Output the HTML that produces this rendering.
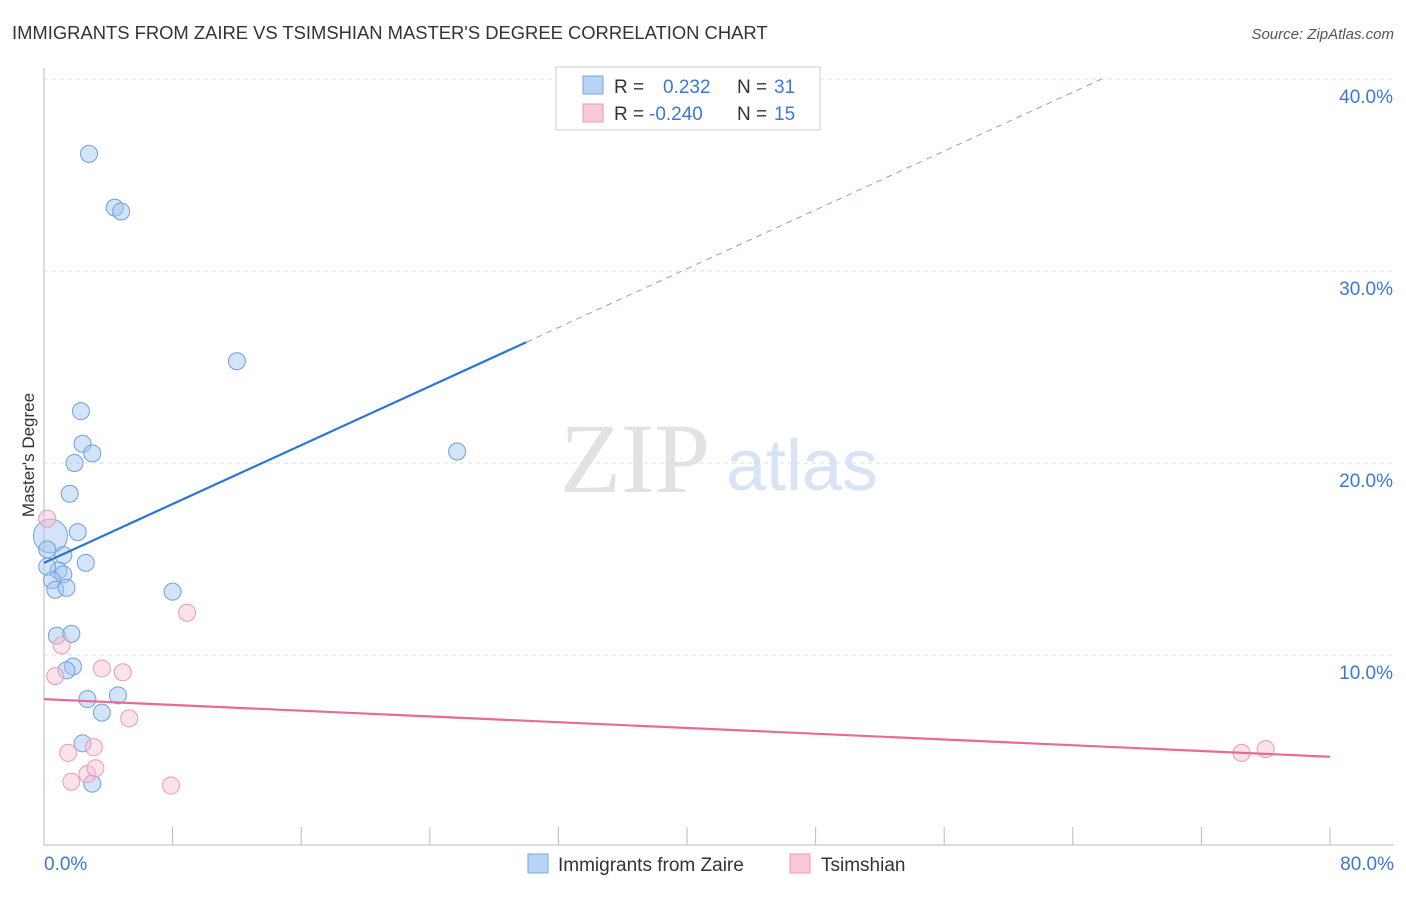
<!DOCTYPE html>
<html><head><meta charset="utf-8"><style>
body{margin:0;background:#fff;font-family:"Liberation Sans",sans-serif;}
svg text{font-family:"Liberation Sans",sans-serif;}
</style></head><body>
<svg id="chart" width="1406" height="892" viewBox="0 0 1406 892">
<text x="12" y="39" font-size="18.4" fill="#333">IMMIGRANTS FROM ZAIRE VS TSIMSHIAN MASTER'S DEGREE CORRELATION CHART</text>
<text x="1394" y="39" font-size="15" fill="#555" font-style="italic" text-anchor="end">Source: ZipAtlas.com</text>
<g>
<text x="635" y="492" font-size="100" fill="#e2e2e2" text-anchor="middle" style="font-family:'Liberation Serif',serif">ZIP</text>
<text x="802" y="490" font-size="72" fill="#d6e4f5" text-anchor="middle">atlas</text>
</g>
<g id="grid"></g>
<g id="axes"></g>
<g id="marks"></g>
<text transform="translate(34,455) rotate(-90)" font-size="17" fill="#333" text-anchor="middle">Master's Degree</text>
<g>
<rect x="556" y="67" width="264" height="63" fill="#fff" stroke="#ccc"/>
<rect x="583" y="76" width="20" height="18" fill="#b8d3f5" stroke="#7aa7e0"/>
<text x="614" y="93" font-size="19" fill="#333">R = </text><text x="663" y="93" font-size="19" fill="#3a78d6">0.232</text>
<text x="737" y="93" font-size="19" fill="#333">N = </text><text x="774" y="93" font-size="19" fill="#3a78d6">31</text>
<rect x="583" y="104" width="20" height="18" fill="#f9c9d8" stroke="#eb9ab4"/>
<text x="614" y="120" font-size="19" fill="#333">R = </text><text x="649" y="120" font-size="19" fill="#3a78d6">-0.240</text>
<text x="737" y="120" font-size="19" fill="#333">N = </text><text x="774" y="120" font-size="19" fill="#3a78d6">15</text>
</g>
<g>
<rect x="528" y="854" width="20" height="19" fill="#b8d3f5" stroke="#7aa7e0"/>
<text x="558" y="871" font-size="19" fill="#333">Immigrants from Zaire</text>
<rect x="790" y="854" width="20" height="19" fill="#f9c9d8" stroke="#eb9ab4"/>
<text x="821" y="871" font-size="19" fill="#333">Tsimshian</text>
</g>
</svg>
<script>
const xTicks=[0,8,16,24,32,40,48,56,64,72,80];
const yTicks=[10,20,30,40];
const zaireX=[2.8,4.4,4.8,12.0,2.3,2.4,3.0,1.9,25.7,1.6,2.1,0.4,0.2,1.2,2.6,0.9,1.2,0.5,0.7,1.4,8.0,0.8,1.7,1.8,1.4,2.7,4.6,3.6,2.4,3.0,0.2];
const zaireY=[36.1,33.3,33.1,25.3,22.7,21.0,20.5,20.0,20.6,18.4,16.4,16.2,15.5,15.2,14.8,14.4,14.2,13.9,13.4,13.5,13.3,11.0,11.1,9.4,9.2,7.7,7.9,7.0,5.4,3.3,14.6];
const tsimX=[0.2,1.1,0.7,3.6,4.9,8.9,5.3,1.5,3.1,1.7,2.7,3.2,7.9,74.5,76.0];
const tsimY=[17.1,10.5,8.9,9.3,9.1,12.2,6.7,4.9,5.2,3.4,3.8,4.1,3.2,4.9,5.1];
const zaireTrend=[14.8,0.383];
const tsimTrend=[7.7,-0.0375];
const NS="http://www.w3.org/2000/svg";
const xs=v=>44+v*16.075, ys=v=>847-v*19.2;
function mk(parent,tag,attrs){const e=document.createElementNS(NS,tag);for(const k in attrs)e.setAttribute(k,attrs[k]);document.getElementById(parent).appendChild(e);return e;}
yTicks.forEach(t=>{
 const l=mk('grid','line',{x1:44,x2:1394,y1:ys(t),y2:ys(t),stroke:'#ddd','stroke-dasharray':'4,4'});
 
 
 const tx=mk('axes','text',{x:1393,y:ys(t)+24,'font-size':19,fill:'#3a78d6','text-anchor':'end'});
 tx.textContent=t.toFixed(1)+'%';
 
 
});
const ax=mk('axes','line',{x1:44,x2:1394,y1:845,y2:845,stroke:'#bbb'});


const ay=mk('axes','line',{x1:44,x2:44,y1:68,y2:845,stroke:'#bbb'});


xTicks.forEach(t=>{
 const l=mk('axes','line',{x1:xs(t),x2:xs(t),y1:827,y2:845,stroke:'#bbb'});
 
 
});
[[0,'0.0%','start',44],[80,'80.0%','end',1394]].forEach(a=>{
 const tx=mk('axes','text',{x:a[3],y:870,'font-size':19,fill:'#3a78d6','text-anchor':a[2]});
 tx.textContent=a[1];
 
 
});
zaireX.forEach((x,i)=>{
 const r=i==11?17:8.5;
 const c=mk('marks','circle',{cx:xs(x),cy:ys(zaireY[i]),r:r,fill:'rgba(160,196,240,0.45)',stroke:'#6fa0e0','stroke-width':1});
 
 
});
tsimX.forEach((x,i)=>{
 const c=mk('marks','circle',{cx:xs(x),cy:ys(tsimY[i]),r:8.5,fill:'rgba(248,190,210,0.45)',stroke:'#eb9ab4','stroke-width':1});
 
 
});
const zf=v=>zaireTrend[0]+zaireTrend[1]*v;
const zl=mk('marks','line',{x1:xs(0),y1:ys(zf(0)),x2:xs(30),y2:ys(zf(30)),stroke:'#2a74d8','stroke-width':2.2});


const xEnd=(40-zaireTrend[0])/zaireTrend[1];
const zd=mk('marks','line',{x1:xs(30),y1:ys(zf(30)),x2:xs(xEnd),y2:ys(40),stroke:'#7aa7e0','stroke-width':1,'stroke-dasharray':'6,5'});


const tf=v=>tsimTrend[0]+tsimTrend[1]*v;
const tl=mk('marks','line',{x1:xs(0),y1:ys(tf(0)),x2:xs(80),y2:ys(tf(80)),stroke:'#e86a95','stroke-width':2.2});


</script>
</body></html>
